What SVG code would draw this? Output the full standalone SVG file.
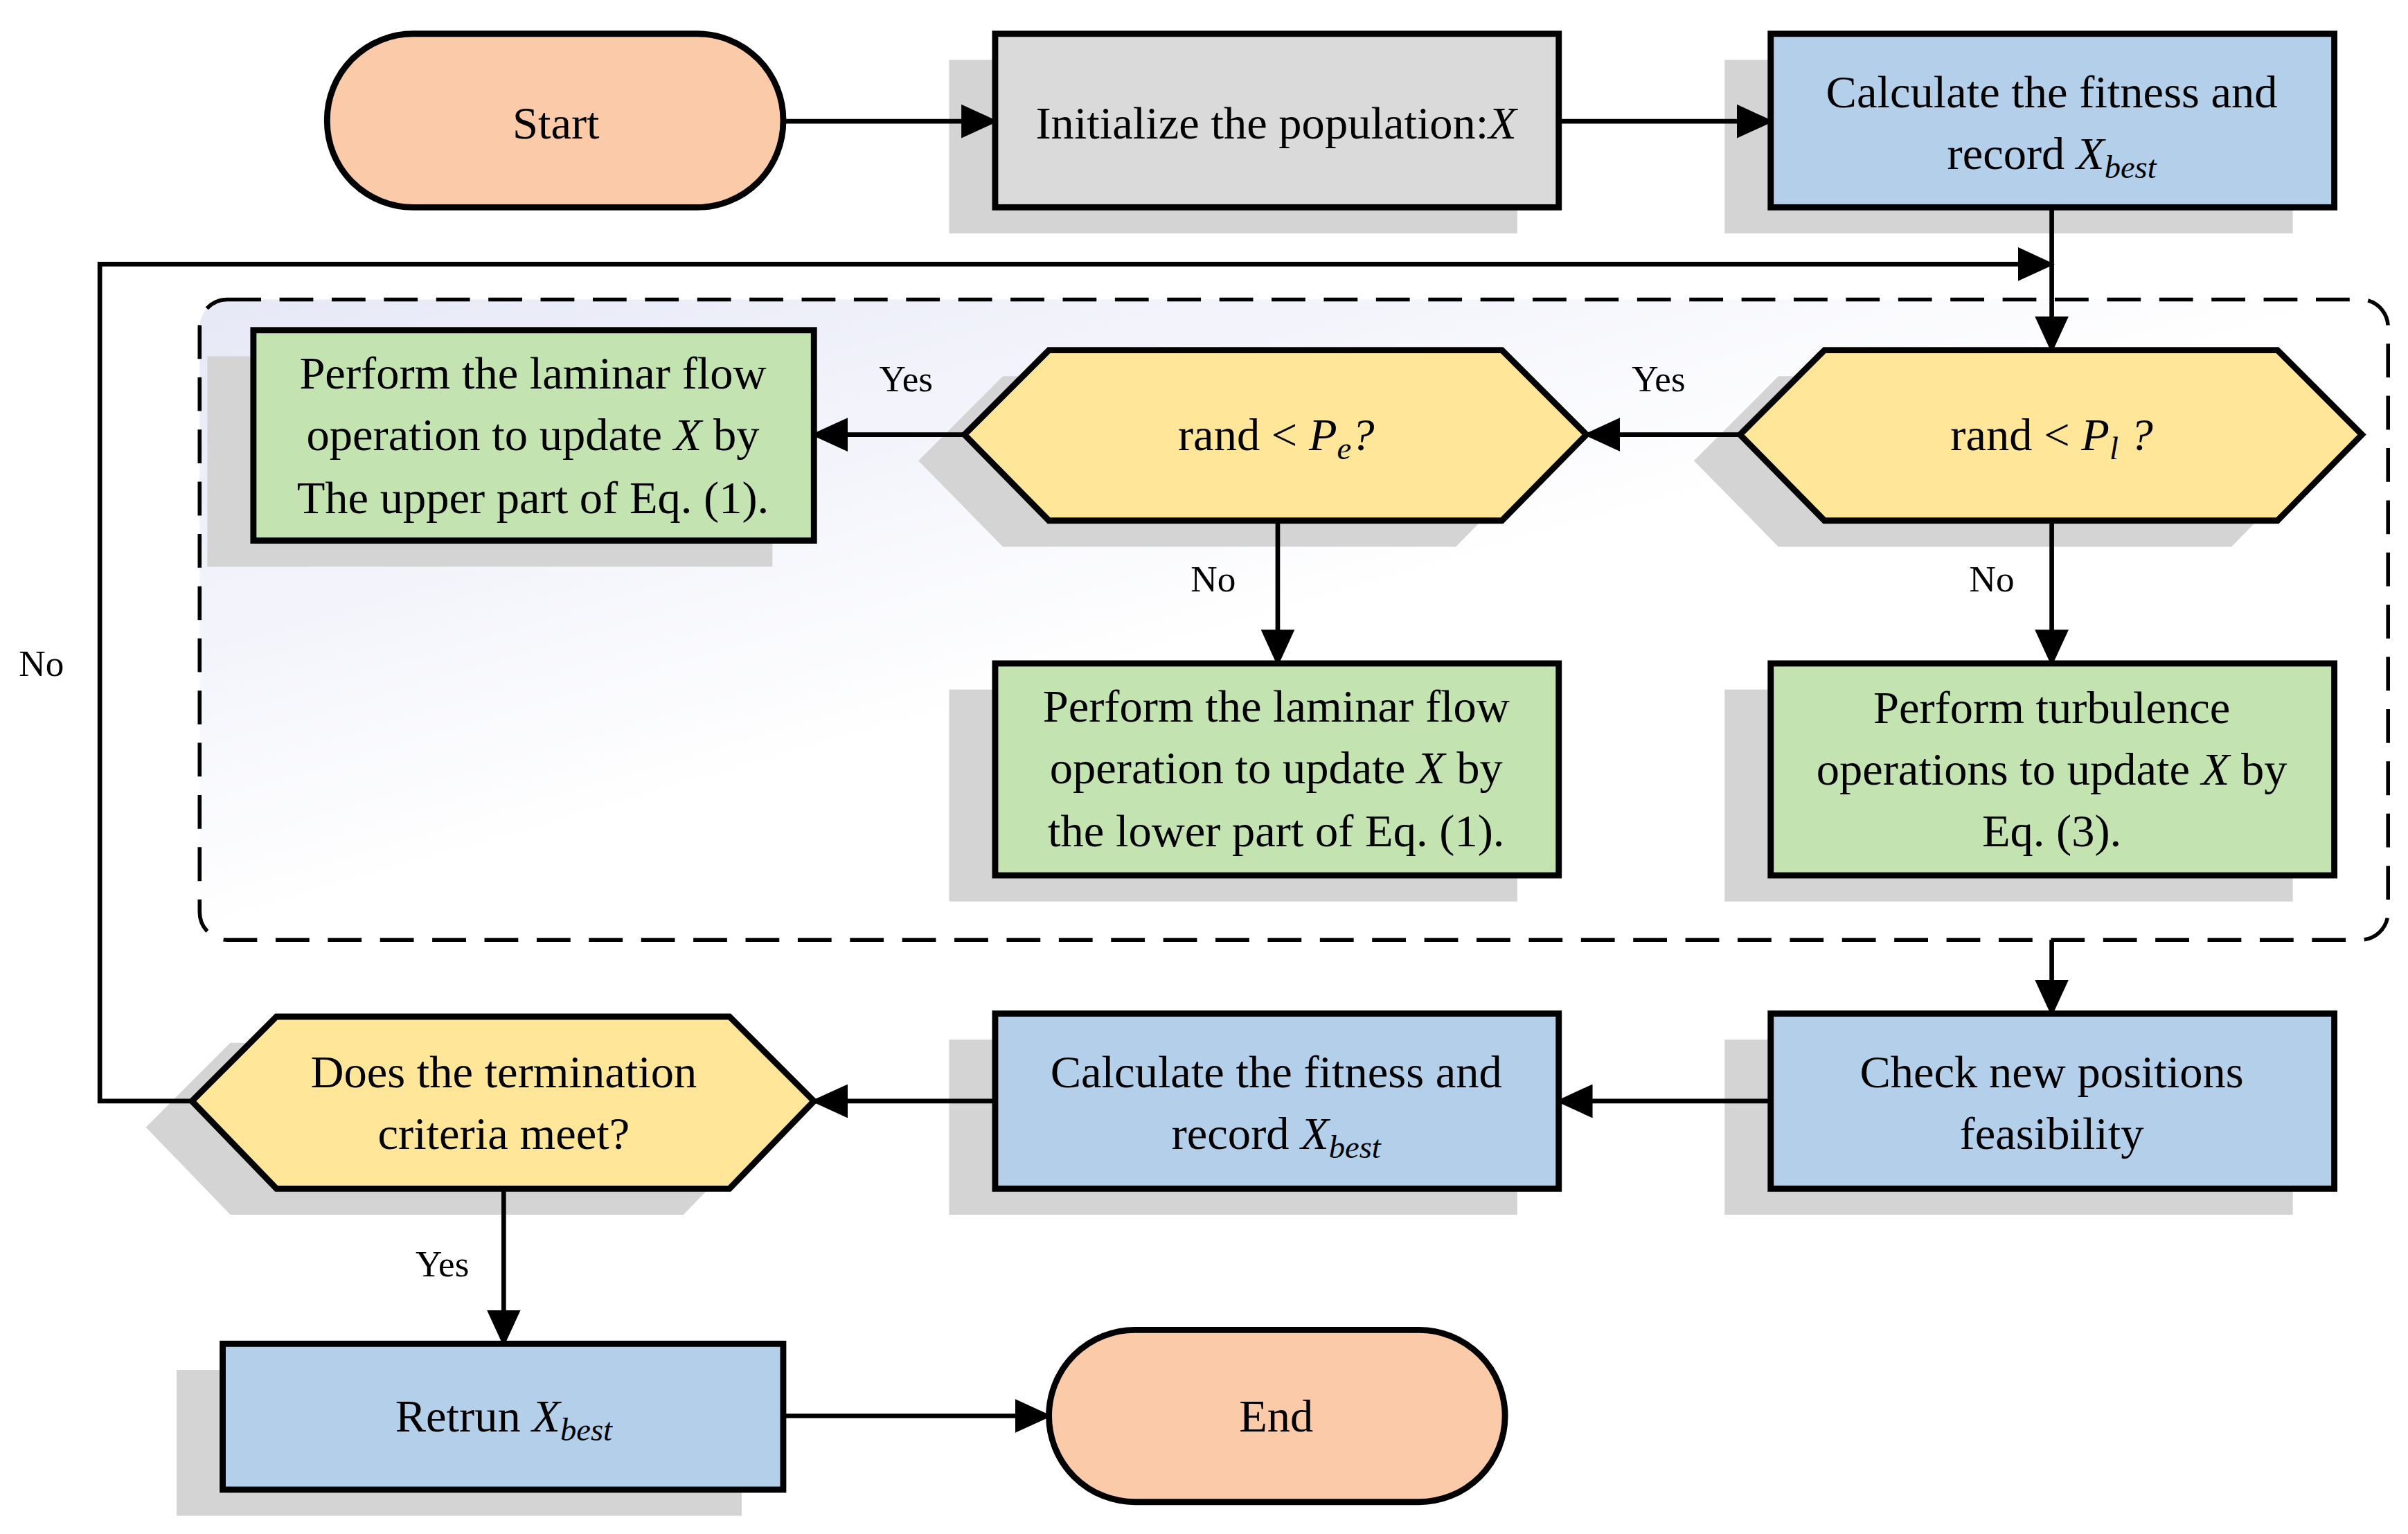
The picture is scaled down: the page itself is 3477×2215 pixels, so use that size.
<svg xmlns="http://www.w3.org/2000/svg" width="3477" height="2215" viewBox="0 0 3477 2215">
<style>
.t{font-family:"Liberation Serif","Times New Roman",serif;font-size:30px;fill:#000;text-anchor:middle}
.l{font-family:"Liberation Serif","Times New Roman",serif;font-size:24px;fill:#000;text-anchor:middle}
.i{font-style:italic}
.s{font-style:italic;font-size:21px}
.sh{fill:#d4d4d4}
.b{stroke:#000;stroke-width:4}
.ln{stroke:#000;stroke-width:3;fill:none}
.blue{fill:#b4cfea}.green{fill:#c3e3b0}.yel{fill:#ffe699}.peach{fill:#fbcaa8}.gray{fill:#dadada}
</style>
<defs>
<marker id="a" markerUnits="userSpaceOnUse" markerWidth="24" markerHeight="22" refX="22" refY="11" orient="auto"><path d="M0,0 L24,11 L0,22 Z" fill="#000"/></marker>
<linearGradient id="g" x1="0" y1="0" x2="1" y2="1"><stop offset="0" stop-color="#e6e8f6"/><stop offset="0.5" stop-color="#ffffff"/></linearGradient>
</defs>
<rect width="3477" height="2215" fill="#fff"/>
<g transform="scale(2.2175)">
<g id="container"><rect x="130" y="195" width="1425" height="417" rx="18" fill="url(#g)" stroke="#000" stroke-width="2.5" stroke-dasharray="22,12"/></g>
<g id="start"><rect x="213" y="22" width="297" height="113" rx="56" class="peach b"/><text x="362" y="90" class="t">Start</text></g>
<g id="init"><rect x="618" y="39" width="370" height="113" class="sh"/><rect x="648" y="22" width="367" height="113" class="gray b"/><text x="831" y="90" class="t">Initialize the population:<tspan class="i">X</tspan></text></g>
<g id="calc1"><rect x="1123" y="39" width="370" height="113" class="sh"/><rect x="1153" y="22" width="367" height="113" class="blue b"/><text x="1336" y="70" class="t">Calculate the fitness  and</text><text x="1336" y="110" class="t">record <tspan class="i">X</tspan><tspan class="s" dy="6">best</tspan></text></g>
<g id="d1"><polygon points="1103,300 1158,245 1453,245 1508,300 1453,356 1158,356" class="sh"/><polygon points="1133,283 1188,228 1483,228 1538,283 1483,339 1188,339" class="yel b"/><text x="1336" y="293" class="t">rand &lt; <tspan class="i">P</tspan><tspan class="s" dy="6">l</tspan><tspan dy="-6" class="i"> ?</tspan></text></g>
<g id="d2"><polygon points="598,300 653,245 948,245 1003,300 948,356 653,356" class="sh"/><polygon points="628,283 683,228 978,228 1033,283 978,339 683,339" class="yel b"/><text x="831" y="293" class="t">rand &lt; <tspan class="i">P</tspan><tspan class="s" dy="6">e</tspan><tspan dy="-6" class="i">?</tspan></text></g>
<g id="g1"><rect x="135" y="232" width="368" height="137" class="sh"/><rect x="165" y="215" width="365" height="137" class="green b"/><text x="347" y="253" class="t">Perform the laminar flow</text><text x="347" y="293" class="t">operation to update <tspan class="i">X</tspan>  by</text><text x="347" y="334" class="t">The upper part of Eq. (1).</text></g>
<g id="g2"><rect x="618" y="449" width="370" height="138" class="sh"/><rect x="648" y="432" width="367" height="138" class="green b"/><text x="831" y="470" class="t">Perform the laminar flow</text><text x="831" y="510" class="t">operation to update <tspan class="i">X</tspan>  by</text><text x="831" y="551" class="t">the lower part of  Eq. (1).</text></g>
<g id="g3"><rect x="1123" y="449" width="370" height="138" class="sh"/><rect x="1153" y="432" width="367" height="138" class="green b"/><text x="1336" y="471" class="t">Perform turbulence</text><text x="1336" y="511" class="t">operations to update <tspan class="i">X</tspan>  by</text><text x="1336" y="551" class="t">Eq. (3).</text></g>
<g id="check"><rect x="1123" y="677" width="370" height="114" class="sh"/><rect x="1153" y="660" width="367" height="114" class="blue b"/><text x="1336" y="708" class="t">Check new positions</text><text x="1336" y="748" class="t">feasibility</text></g>
<g id="calc2"><rect x="618" y="677" width="370" height="114" class="sh"/><rect x="648" y="660" width="367" height="114" class="blue b"/><text x="831" y="708" class="t">Calculate the fitness  and</text><text x="831" y="748" class="t">record <tspan class="i">X</tspan><tspan class="s" dy="6">best</tspan></text></g>
<g id="d3"><polygon points="95,734 150,679 445,679 500,734 445,791 150,791" class="sh"/><polygon points="125,717 180,662 475,662 530,717 475,774 180,774" class="yel b"/><text x="328" y="708" class="t">Does the termination</text><text x="328" y="748" class="t">criteria meet?</text></g>
<g id="ret"><rect x="115" y="892" width="368" height="95" class="sh"/><rect x="145" y="875" width="365" height="95" class="blue b"/><text x="328" y="932" class="t">Retrun <tspan class="i">X</tspan><tspan class="s" dy="6">best</tspan></text></g>
<g id="end"><rect x="683" y="866" width="297" height="112" rx="56" class="peach b"/><text x="831" y="932" class="t">End</text></g>
<g id="connectors">
<path d="M510,79 H648" class="ln" marker-end="url(#a)"/>
<path d="M1015,79 H1153" class="ln" marker-end="url(#a)"/>
<path d="M1336,135 V228" class="ln" marker-end="url(#a)"/>
<path d="M125,717 H65 V172 H1336" class="ln" marker-end="url(#a)"/>
<path d="M1133,283 H1033" class="ln" marker-end="url(#a)"/>
<path d="M628,283 H530" class="ln" marker-end="url(#a)"/>
<path d="M832,339 V432" class="ln" marker-end="url(#a)"/>
<path d="M1336,339 V432" class="ln" marker-end="url(#a)"/>
<path d="M1336,612 V660" class="ln" marker-end="url(#a)"/>
<path d="M1153,717 H1015" class="ln" marker-end="url(#a)"/>
<path d="M648,717 H530" class="ln" marker-end="url(#a)"/>
<path d="M328,774 V875" class="ln" marker-end="url(#a)"/>
<path d="M510,922 H683" class="ln" marker-end="url(#a)"/>
<text x="1080" y="255" class="l">Yes</text>
<text x="590" y="255" class="l">Yes</text>
<text x="790" y="385" class="l">No</text>
<text x="1297" y="385" class="l">No</text>
<text x="27" y="440" class="l">No</text>
<text x="288" y="831" class="l">Yes</text>
</g>
</g>
</svg>
